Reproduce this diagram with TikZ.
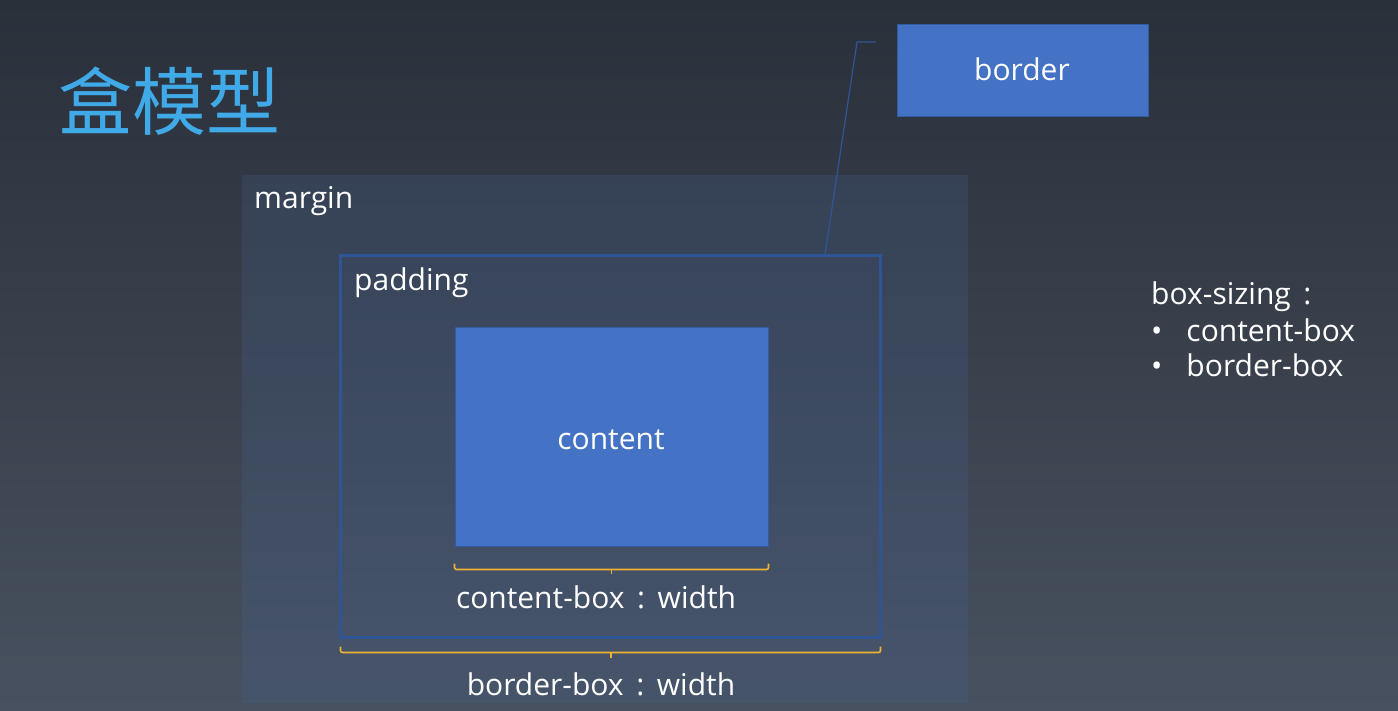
\documentclass[tikz,border=0pt]{standalone}
\usepackage{fontspec}
\setmainfont{Open Sans}
\newfontfamily\cjk{Noto Sans CJK SC}
\usetikzlibrary{positioning,calc}
\definecolor{bgtop}{RGB}{42,48,58}
\definecolor{bgbot}{RGB}{72,81,95}
\definecolor{boxblue}{RGB}{68,114,196}
\definecolor{edgeblue}{RGB}{47,85,151}
\definecolor{marginfill}{RGB}{70,100,150}
\definecolor{bracecol}{RGB}{240,180,50}
\definecolor{titleblue}{RGB}{64,169,232}
\newcommand{\colsep}{\hspace{0.42em}:\hspace{0.42em}}

\begin{document}
\begin{tikzpicture}[x=1pt, y=-1pt,
  lbl/.style={text=white, font=\fontsize{30}{36}\selectfont, inner sep=0pt},
  bluebox/.style={fill=boxblue, draw=edgeblue!80!boxblue, line width=1pt, inner sep=0pt},
  bracket/.style={draw=bracecol, line width=1.6pt, rounded corners=2pt},
  leader/.style={draw=edgeblue, line width=1.2pt}]
% background
\shade[top color=bgtop, bottom color=bgbot] (0,0) rectangle (1398,711);
\useasboundingbox (0,0) rectangle (1398,711);
% title
\node[anchor=west, text=titleblue, inner sep=0pt, font=\cjk\fontsize{74}{80}\selectfont] (title) at (58,101) {盒模型};
% boxes
\node[fill=marginfill, fill opacity=0.22, minimum width=726pt, minimum height=528pt, inner sep=0pt] (mar) at (605,439) {};
\node[draw=edgeblue, line width=3pt, fill=marginfill, fill opacity=0.06, draw opacity=1, minimum width=540pt, minimum height=381pt, inner sep=0pt] (pad) at (610,446.5) {};
\node[bluebox, minimum width=313pt, minimum height=218pt] (cnt) at (611.5,437) {};
\node[lbl, anchor=base] at (611,449) {content};
\node[lbl, anchor=base west] (marlbl) at (254,209) {margin};
\node[lbl, anchor=base west] (padlbl) at (354,291) {padding};
% border label
\node[bluebox, minimum width=251pt, minimum height=92pt] (brd) at (1022.5,71) {};
\node[lbl, anchor=base] at (1022,81) {border};
\coordinate (leadA) at (876,42);
\coordinate (leadB) at (857,42);
\draw[leader] (leadA) -- (leadB) -- ([xshift=215pt]pad.north);
% widths
\draw[bracket] ([yshift=-17pt]cnt.south west) -- ([yshift=-23pt]cnt.south west) -- ([yshift=-23pt]cnt.south east) -- ([yshift=-17pt]cnt.south east);
\draw[bracket] ([yshift=-23pt]cnt.south) -- ([yshift=-27pt]cnt.south);
\node[lbl, anchor=base] (cntw) at (596,608) {content-box\colsep width};
\draw[bracket] ([xshift=2pt,yshift=-8pt]pad.south west) -- ([xshift=2pt,yshift=-14pt]pad.south west) -- ([xshift=-1pt,yshift=-14pt]pad.south east) -- ([xshift=-1pt,yshift=-8pt]pad.south east);
\draw[bracket] ([xshift=1pt,yshift=-14pt]pad.south) -- ([xshift=1pt,yshift=-19pt]pad.south);
\node[lbl, anchor=base] (brdw) at (601,695) {border-box\colsep width};
% box-sizing
\node[lbl, anchor=base west] (bs) at (1151,305) {box-sizing\hspace{0.42em}:};
\node[lbl, anchor=base west] (bs1) at (1151,342) {\textbullet\hspace{24pt}content-box};
\node[lbl, anchor=base west] (bs2) at (1151,377) {\textbullet\hspace{24pt}border-box};
\end{tikzpicture}
\end{document}
